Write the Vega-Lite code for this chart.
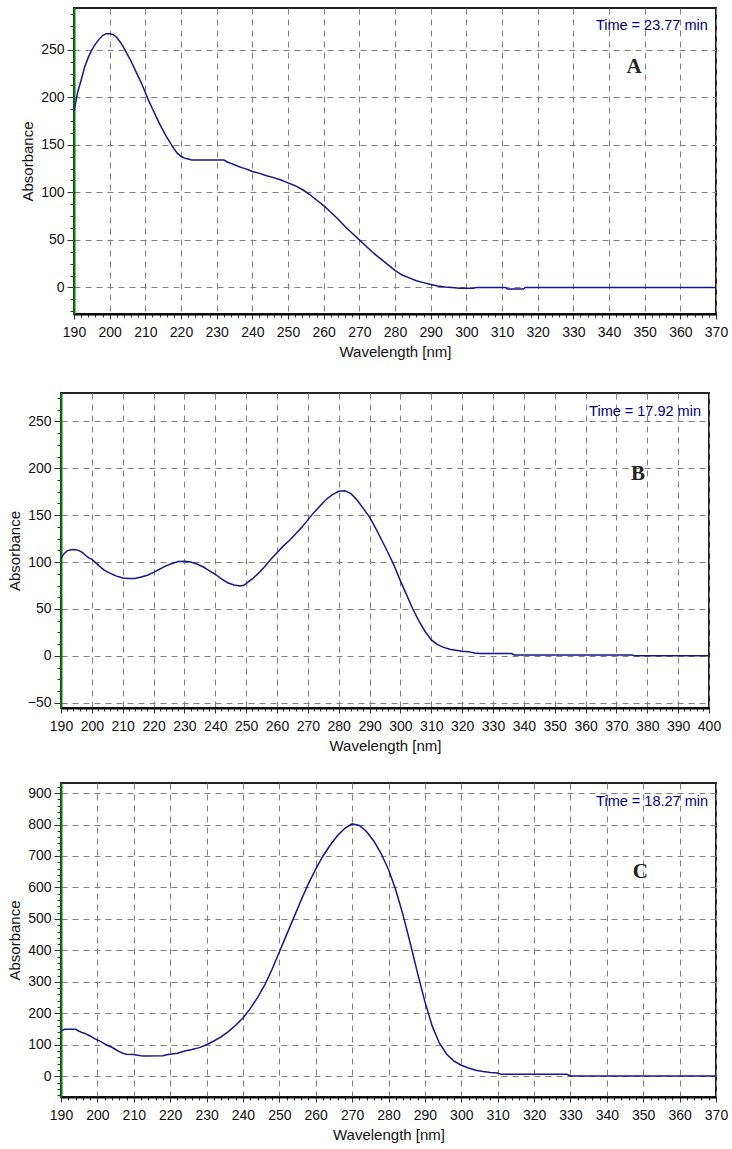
{
  "$schema": "https://vega.github.io/schema/vega-lite/v6.json",
  "padding": {"left": 6, "top": 6, "right": 0, "bottom": 0},
  "columns": 1,
  "align": "none",
  "spacing": 29,
  "datasets": {
    "A": [
      {"wl":190,"abs":185},{"wl":191,"abs":205},{"wl":192,"abs":218},{"wl":193,"abs":232},{"wl":194,"abs":242},{"wl":195,"abs":250},{"wl":196,"abs":256},{"wl":197,"abs":261},{"wl":198,"abs":265},{"wl":199,"abs":267},{"wl":200,"abs":267},{"wl":201,"abs":266},{"wl":202,"abs":263},{"wl":203,"abs":258},{"wl":204,"abs":252},{"wl":205,"abs":245},{"wl":206,"abs":238},{"wl":207,"abs":230},{"wl":208,"abs":222},{"wl":209,"abs":214},{"wl":210,"abs":205},{"wl":211,"abs":196},{"wl":212,"abs":188},{"wl":213,"abs":180},{"wl":214,"abs":172},{"wl":215,"abs":165},{"wl":216,"abs":158},{"wl":217,"abs":152},{"wl":218,"abs":146},{"wl":219,"abs":141},{"wl":220,"abs":138},{"wl":221,"abs":136},{"wl":222,"abs":135},{"wl":223,"abs":134},{"wl":232,"abs":134},{"wl":233,"abs":132},{"wl":234,"abs":130.5},{"wl":235,"abs":129},{"wl":236,"abs":127.5},{"wl":237,"abs":126},{"wl":238,"abs":125},{"wl":239,"abs":123.5},{"wl":240,"abs":122},{"wl":242,"abs":120},{"wl":244,"abs":117.5},{"wl":246,"abs":115.5},{"wl":248,"abs":113},{"wl":250,"abs":110},{"wl":252,"abs":107},{"wl":254,"abs":103},{"wl":256,"abs":98},{"wl":258,"abs":92},{"wl":260,"abs":86},{"wl":262,"abs":79},{"wl":264,"abs":72},{"wl":266,"abs":64},{"wl":268,"abs":57},{"wl":270,"abs":50},{"wl":272,"abs":43},{"wl":274,"abs":36},{"wl":276,"abs":30},{"wl":278,"abs":24},{"wl":280,"abs":18},{"wl":282,"abs":13},{"wl":284,"abs":10},{"wl":286,"abs":7},{"wl":288,"abs":5},{"wl":290,"abs":3},{"wl":292,"abs":1.5},{"wl":294,"abs":0.5},{"wl":296,"abs":0},{"wl":298,"abs":-1},{"wl":302,"abs":-1},{"wl":303,"abs":0},{"wl":311,"abs":0},{"wl":311.5,"abs":-1.7},{"wl":316,"abs":-1.7},{"wl":316.5,"abs":0},{"wl":370,"abs":0}
    ],
    "B": [
      {"wl":190,"abs":104},{"wl":191,"abs":109},{"wl":192,"abs":112},{"wl":193,"abs":113},{"wl":194,"abs":113.5},{"wl":195,"abs":113},{"wl":196,"abs":112},{"wl":197,"abs":110},{"wl":198,"abs":107},{"wl":199,"abs":104.5},{"wl":200,"abs":103},{"wl":201,"abs":100},{"wl":202,"abs":97},{"wl":203,"abs":94},{"wl":204,"abs":91.5},{"wl":205,"abs":89.5},{"wl":206,"abs":88},{"wl":207,"abs":86.5},{"wl":208,"abs":85},{"wl":209,"abs":84},{"wl":210,"abs":83},{"wl":212,"abs":82.5},{"wl":214,"abs":82.5},{"wl":216,"abs":84},{"wl":218,"abs":86},{"wl":220,"abs":89},{"wl":222,"abs":92.5},{"wl":224,"abs":96},{"wl":226,"abs":98.5},{"wl":228,"abs":100.5},{"wl":230,"abs":101},{"wl":232,"abs":100},{"wl":234,"abs":98},{"wl":236,"abs":95},{"wl":238,"abs":91},{"wl":240,"abs":87},{"wl":242,"abs":82},{"wl":244,"abs":78},{"wl":246,"abs":75.5},{"wl":248,"abs":74.5},{"wl":249,"abs":75},{"wl":250,"abs":77},{"wl":252,"abs":82},{"wl":254,"abs":88},{"wl":256,"abs":95},{"wl":258,"abs":103},{"wl":260,"abs":110},{"wl":262,"abs":117},{"wl":264,"abs":123},{"wl":266,"abs":130},{"wl":268,"abs":137},{"wl":270,"abs":145},{"wl":272,"abs":153},{"wl":274,"abs":160},{"wl":276,"abs":167},{"wl":278,"abs":172},{"wl":280,"abs":175.5},{"wl":282,"abs":176},{"wl":284,"abs":173},{"wl":286,"abs":166},{"wl":288,"abs":157},{"wl":290,"abs":148},{"wl":292,"abs":136},{"wl":294,"abs":123},{"wl":296,"abs":110},{"wl":298,"abs":96},{"wl":300,"abs":80},{"wl":302,"abs":65},{"wl":304,"abs":50},{"wl":306,"abs":37},{"wl":308,"abs":26},{"wl":310,"abs":17},{"wl":312,"abs":12},{"wl":314,"abs":9},{"wl":316,"abs":7},{"wl":318,"abs":6},{"wl":320,"abs":5},{"wl":322,"abs":4.5},{"wl":324,"abs":3},{"wl":326,"abs":2.5},{"wl":336,"abs":2.5},{"wl":337,"abs":1},{"wl":375,"abs":1},{"wl":376,"abs":0},{"wl":400,"abs":0}
    ],
    "C": [
      {"wl":190,"abs":144},{"wl":191,"abs":149},{"wl":194,"abs":149},{"wl":195,"abs":143},{"wl":196,"abs":138},{"wl":197,"abs":134},{"wl":198,"abs":128},{"wl":199,"abs":121},{"wl":200,"abs":115},{"wl":201,"abs":110},{"wl":202,"abs":103},{"wl":203,"abs":97},{"wl":204,"abs":92},{"wl":205,"abs":85},{"wl":206,"abs":78},{"wl":207,"abs":73},{"wl":208,"abs":70},{"wl":210,"abs":69},{"wl":211,"abs":67},{"wl":212,"abs":65},{"wl":213,"abs":64},{"wl":218,"abs":65},{"wl":219,"abs":68},{"wl":220,"abs":70},{"wl":222,"abs":73},{"wl":224,"abs":80},{"wl":226,"abs":85},{"wl":228,"abs":91},{"wl":230,"abs":100},{"wl":232,"abs":112},{"wl":234,"abs":125},{"wl":236,"abs":142},{"wl":238,"abs":162},{"wl":240,"abs":185},{"wl":242,"abs":215},{"wl":244,"abs":250},{"wl":246,"abs":290},{"wl":248,"abs":340},{"wl":250,"abs":395},{"wl":252,"abs":450},{"wl":254,"abs":505},{"wl":256,"abs":560},{"wl":258,"abs":612},{"wl":260,"abs":658},{"wl":262,"abs":700},{"wl":264,"abs":735},{"wl":266,"abs":765},{"wl":268,"abs":788},{"wl":270,"abs":802},{"wl":272,"abs":797},{"wl":274,"abs":777},{"wl":276,"abs":747},{"wl":278,"abs":707},{"wl":280,"abs":657},{"wl":282,"abs":592},{"wl":284,"abs":512},{"wl":286,"abs":422},{"wl":288,"abs":327},{"wl":290,"abs":237},{"wl":292,"abs":160},{"wl":294,"abs":105},{"wl":296,"abs":70},{"wl":298,"abs":48},{"wl":300,"abs":35},{"wl":302,"abs":26},{"wl":304,"abs":19},{"wl":306,"abs":15},{"wl":308,"abs":12},{"wl":310,"abs":10},{"wl":311,"abs":6},{"wl":329,"abs":6},{"wl":330,"abs":1},{"wl":370,"abs":1}
    ]
  },
  "concat": [
    {
      "hconcat": [
        {"width": 1, "height": 1, "data": {"values": []}, "mark": "point", "view": {"stroke": null}},
        {
          "width": 642, "height": 306,
          "data": {"name": "A"},
          "layer": [
            {
              "mark": {"type": "line", "color": "#16168e", "strokeWidth": 1.5},
              "encoding": {
                "x": {"field": "wl", "type": "quantitative", "scale": {"domain": [190, 370], "nice": false, "zero": false},
                  "axis": {"title": "Wavelength [nm]", "tickCount": 1000, "format": "d",
                    "values": [190,192,194,196,198,200,202,204,206,208,210,212,214,216,218,220,222,224,226,228,230,232,234,236,238,240,242,244,246,248,250,252,254,256,258,260,262,264,266,268,270,272,274,276,278,280,282,284,286,288,290,292,294,296,298,300,302,304,306,308,310,312,314,316,318,320,322,324,326,328,330,332,334,336,338,340,342,344,346,348,350,352,354,356,358,360,362,364,366,368,370],
                    "labelExpr": "datum.value % 10 === 0 ? datum.label : ''",
                    "tickSize": {"condition": {"test": "datum.value % 10 === 0", "value": 5}, "value": 3},
                    "gridOpacity": {"condition": {"test": "datum.value % 10 === 0", "value": 1}, "value": 0}}},
                "y": {"field": "abs", "type": "quantitative", "scale": {"domain": [-28, 294], "nice": false, "zero": false},
                  "axis": {"title": "Absorbance", "tickCount": 1000, "format": "d",
                    "values": [-25,-12.5,0,12.5,25,37.5,50,62.5,75,87.5,100,112.5,125,137.5,150,162.5,175,187.5,200,212.5,225,237.5,250,262.5,275,287.5],
                    "labelExpr": "datum.value % 50 === 0 ? datum.label : ''",
                    "tickSize": {"condition": {"test": "datum.value % 50 === 0", "value": 7}, "value": 4},
                    "gridOpacity": {"condition": {"test": "datum.value % 50 === 0", "value": 1}, "value": 0}}}
              }
            },
            {
              "data": {"values": [{}]},
              "mark": {"type": "text", "align": "right", "baseline": "middle", "fontSize": 14.5, "color": "#000080"},
              "encoding": {"x": {"datum": 367.7, "type": "quantitative"}, "y": {"datum": 275, "type": "quantitative"}, "text": {"value": "Time = 23.77 min"}}
            },
            {
              "data": {"values": [{}]},
              "mark": {"type": "text", "align": "center", "baseline": "middle", "fontSize": 21, "font": "Liberation Serif", "fontWeight": "bold", "color": "#222"},
              "encoding": {"x": {"datum": 347, "type": "quantitative"}, "y": {"datum": 232, "type": "quantitative"}, "text": {"value": "A"}}
            }
          ]
        }
      ],
      "spacing": -43
    },
    {
      "vconcat": [
        {
          "width": 648, "height": 315,
          "data": {"name": "B"},
          "layer": [
            {
              "mark": {"type": "line", "color": "#16168e", "strokeWidth": 1.5},
              "encoding": {
                "x": {"field": "wl", "type": "quantitative", "scale": {"domain": [190, 400], "nice": false, "zero": false},
                  "axis": {"title": "Wavelength [nm]", "tickCount": 1000, "format": "d",
                    "values": [190,192,194,196,198,200,202,204,206,208,210,212,214,216,218,220,222,224,226,228,230,232,234,236,238,240,242,244,246,248,250,252,254,256,258,260,262,264,266,268,270,272,274,276,278,280,282,284,286,288,290,292,294,296,298,300,302,304,306,308,310,312,314,316,318,320,322,324,326,328,330,332,334,336,338,340,342,344,346,348,350,352,354,356,358,360,362,364,366,368,370,372,374,376,378,380,382,384,386,388,390,392,394,396,398,400],
                    "labelExpr": "datum.value % 10 === 0 ? datum.label : ''",
                    "tickSize": {"condition": {"test": "datum.value % 10 === 0", "value": 5}, "value": 3},
                    "gridOpacity": {"condition": {"test": "datum.value % 10 === 0", "value": 1}, "value": 0}}},
                "y": {"field": "abs", "type": "quantitative", "scale": {"domain": [-55.6, 280.3], "nice": false, "zero": false},
                  "axis": {"title": "Absorbance", "tickCount": 1000, "format": "d",
                    "values": [-50,-37.5,-25,-12.5,0,12.5,25,37.5,50,62.5,75,87.5,100,112.5,125,137.5,150,162.5,175,187.5,200,212.5,225,237.5,250,262.5,275],
                    "labelExpr": "datum.value % 50 === 0 ? datum.label : ''",
                    "tickSize": {"condition": {"test": "datum.value % 50 === 0", "value": 7}, "value": 4},
                    "gridOpacity": {"condition": {"test": "datum.value % 50 === 0", "value": 1}, "value": 0}}}
              }
            },
            {
              "data": {"values": [{}]},
              "mark": {"type": "text", "align": "right", "baseline": "middle", "fontSize": 14.5, "color": "#000080"},
              "encoding": {"x": {"datum": 397.4, "type": "quantitative"}, "y": {"datum": 260.4, "type": "quantitative"}, "text": {"value": "Time = 17.92 min"}}
            },
            {
              "data": {"values": [{}]},
              "mark": {"type": "text", "align": "center", "baseline": "middle", "fontSize": 21, "font": "Liberation Serif", "fontWeight": "bold", "color": "#222"},
              "encoding": {"x": {"datum": 377, "type": "quantitative"}, "y": {"datum": 194, "type": "quantitative"}, "text": {"value": "B"}}
            }
          ]
        },
        {
          "width": 655, "height": 314,
          "data": {"name": "C"},
          "layer": [
            {
              "mark": {"type": "line", "color": "#16168e", "strokeWidth": 1.5},
              "encoding": {
                "x": {"field": "wl", "type": "quantitative", "scale": {"domain": [190, 370], "nice": false, "zero": false},
                  "axis": {"title": "Wavelength [nm]", "tickCount": 1000, "format": "d",
                    "values": [190,192,194,196,198,200,202,204,206,208,210,212,214,216,218,220,222,224,226,228,230,232,234,236,238,240,242,244,246,248,250,252,254,256,258,260,262,264,266,268,270,272,274,276,278,280,282,284,286,288,290,292,294,296,298,300,302,304,306,308,310,312,314,316,318,320,322,324,326,328,330,332,334,336,338,340,342,344,346,348,350,352,354,356,358,360,362,364,366,368,370],
                    "labelExpr": "datum.value % 10 === 0 ? datum.label : ''",
                    "tickSize": {"condition": {"test": "datum.value % 10 === 0", "value": 5}, "value": 3},
                    "gridOpacity": {"condition": {"test": "datum.value % 10 === 0", "value": 1}, "value": 0}}},
                "y": {"field": "abs", "type": "quantitative", "scale": {"domain": [-66, 932], "nice": false, "zero": false},
                  "axis": {"title": "Absorbance", "tickCount": 1000, "format": "d",
                    "values": [-60,-40,-20,0,20,40,60,80,100,120,140,160,180,200,220,240,260,280,300,320,340,360,380,400,420,440,460,480,500,520,540,560,580,600,620,640,660,680,700,720,740,760,780,800,820,840,860,880,900,920],
                    "labelExpr": "datum.value % 100 === 0 ? datum.label : ''",
                    "tickSize": {"condition": {"test": "datum.value % 100 === 0", "value": 7}, "value": 4},
                    "gridOpacity": {"condition": {"test": "datum.value % 100 === 0", "value": 1}, "value": 0}}}
              }
            },
            {
              "data": {"values": [{}]},
              "mark": {"type": "text", "align": "right", "baseline": "middle", "fontSize": 14.5, "color": "#000080"},
              "encoding": {"x": {"datum": 367.8, "type": "quantitative"}, "y": {"datum": 873, "type": "quantitative"}, "text": {"value": "Time = 18.27 min"}}
            },
            {
              "data": {"values": [{}]},
              "mark": {"type": "text", "align": "center", "baseline": "middle", "fontSize": 21, "font": "Liberation Serif", "fontWeight": "bold", "color": "#222"},
              "encoding": {"x": {"datum": 349.2, "type": "quantitative"}, "y": {"datum": 650, "type": "quantitative"}, "text": {"value": "C"}}
            }
          ]
        }
      ],
      "spacing": 24
    }
  ],
  "config": {
    "font": "Liberation Sans",
    "view": {"stroke": "#222", "strokeWidth": 2},
    "axis": {
      "labelFontSize": 14, "labelColor": "#111", "labelFont": "Liberation Sans",
      "titleFontSize": 15, "titleFontWeight": "normal", "titleColor": "#111", "titleFont": "Liberation Sans",
      "gridColor": "#808080", "gridDash": [6, 5], "gridWidth": 1,
      "tickColor": "#333", "tickWidth": 1,
      "labelOverlap": false, "labelFlush": false, "labelBound": false
    },
    "axisX": {"domainColor": "#000000", "domainWidth": 2, "labelPadding": 6, "titlePadding": 5},
    "axisY": {"domainColor": "#008000", "domainWidth": 2, "labelPadding": 3, "titlePadding": 5}
  }
}
